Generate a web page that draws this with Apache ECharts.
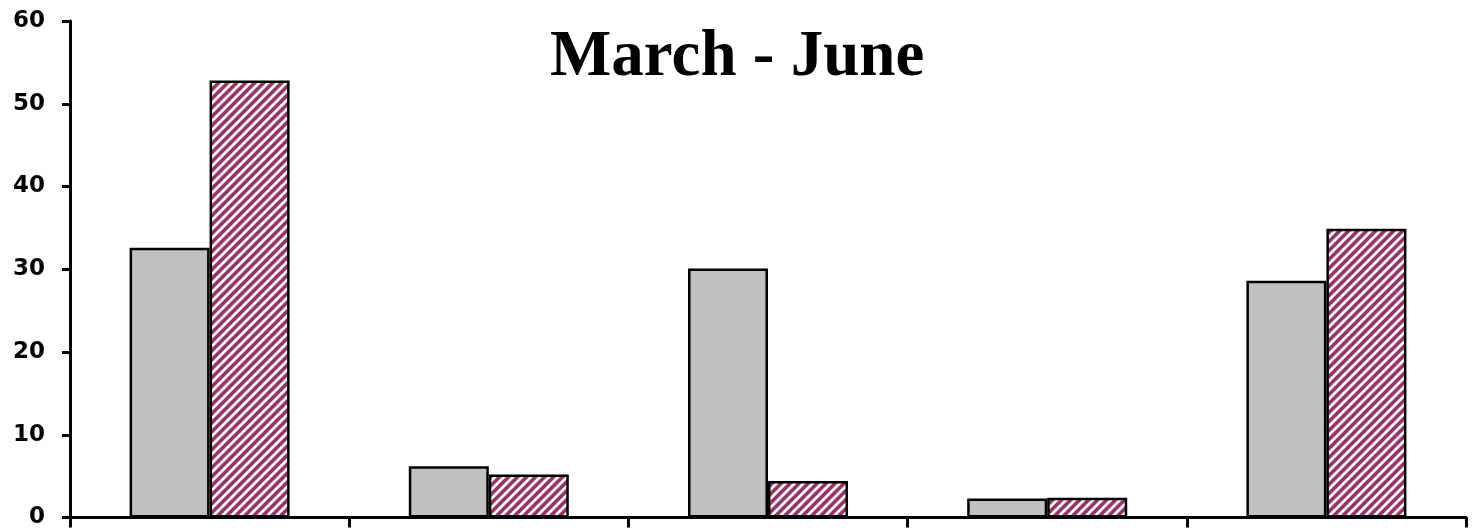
<!DOCTYPE html>
<html>
<head>
<meta charset="utf-8">
<title>March - June</title>
<script src="https://cdn.jsdelivr.net/npm/echarts@6/dist/echarts.min.js"></script>
<style>
    html, body { margin: 0; padding: 0; background: #fff; }
    #chart { width: 1477px; height: 529px; }
</style>
</head>
<body>
<div id="chart"></div>
<script>
// data
var categories = ['1', '2', '3', '4', '5'];
var plainValues = [32.6, 6.2, 30.1, 2.3, 28.6];
var hatchedValues = [52.8, 5.2, 4.4, 2.4, 34.9];
var yTicks = { min: 0, max: 60, interval: 10 };

// diagonal white stripes on maroon, like the hatched bars
function makeHatch() {
    var s = 9;
    var c = document.createElement('canvas');
    c.width = s;
    c.height = s;
    var ctx = c.getContext('2d');
    ctx.fillStyle = '#993366';
    ctx.fillRect(0, 0, s, s);
    ctx.strokeStyle = '#ffffff';
    ctx.lineWidth = 2.8;
    ctx.beginPath();
    ctx.moveTo(-2, s + 2); ctx.lineTo(s + 2, -2);
    ctx.moveTo(-2, 2); ctx.lineTo(2, -2);
    ctx.moveTo(s - 2, s + 2); ctx.lineTo(s + 2, s - 2);
    ctx.stroke();
    return c;
}

var chart = echarts.init(document.getElementById('chart'));
chart.setOption({
    animation: false,
    title: {
        text: 'March - June',
        left: 545,
        top: 21,
        textStyle: {
            fontFamily: 'Liberation Serif',
            fontWeight: 'bold',
            fontSize: 65,
            color: '#000'
        }
    },
    grid: {
        left: 70,
        right: 11,
        top: 21,
        bottom: 10,
        containLabel: false
    },
    xAxis: {
        type: 'category',
        data: categories,
        axisLine: { lineStyle: { color: '#000', width: 3 } },
        axisTick: { show: true, inside: false, length: 10, lineStyle: { color: '#000', width: 3 } },
        axisLabel: { show: false },
        splitLine: { show: false }
    },
    yAxis: {
        type: 'value',
        min: yTicks.min,
        max: yTicks.max,
        interval: yTicks.interval,
        axisLine: { show: true, lineStyle: { color: '#000', width: 3 } },
        axisTick: { show: true, length: 8, lineStyle: { color: '#000', width: 3 } },
        splitLine: { show: false },
        axisLabel: {
            margin: 25,
            fontFamily: 'DejaVu Sans',
            fontWeight: 'bold',
            fontSize: 23,
            color: '#000',
            padding: [6, 0, 0, 0]
        }
    },
    series: [
        {
            type: 'bar',
            data: plainValues,
            barWidth: 80,
            barGap: '0%',
            itemStyle: { color: '#c0c0c0', borderColor: '#000', borderWidth: 2.5 }
        },
        {
            type: 'bar',
            data: hatchedValues,
            barWidth: 80,
            barGap: '0%',
            itemStyle: {
                color: { image: makeHatch(), repeat: 'repeat' },
                borderColor: '#000',
                borderWidth: 2.5
            }
        }
    ]
});
</script>
</body>
</html>
